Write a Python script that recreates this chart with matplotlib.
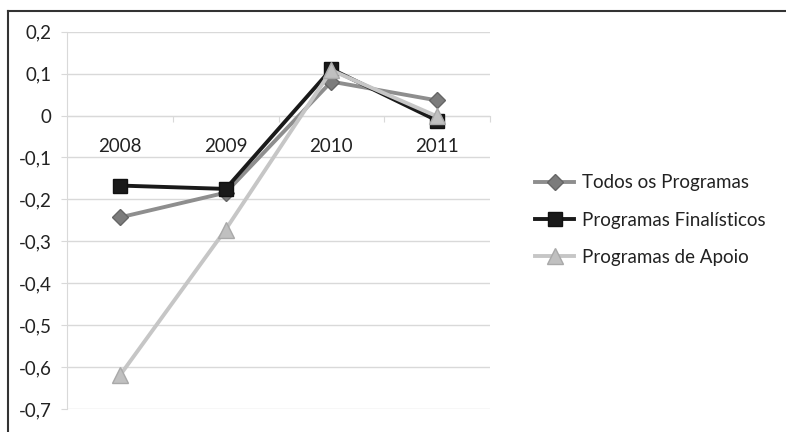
import matplotlib
matplotlib.use('Agg')
import matplotlib.pyplot as plt
from matplotlib.lines import Line2D

plt.rcParams['font.family'] = ['Lato', 'DejaVu Sans']

# Data
years = ['2008', '2009', '2010', '2011']
todos = [-0.243, -0.184, 0.081, 0.036]
finalisticos = [-0.167, -0.175, 0.111, -0.012]
apoio = [-0.620, -0.272, 0.108, -0.002]
y_ticks = [0.2, 0.1, 0.0, -0.1, -0.2, -0.3, -0.4, -0.5, -0.6, -0.7]
y_labels = ['0,2', '0,1', '0', '-0,1', '-0,2', '-0,3', '-0,4', '-0,5', '-0,6', '-0,7']

grid_col = '#d9d9d9'
text_col = '#222222'
fs = 13.5

fig = plt.figure(figsize=(7.86, 4.32), dpi=100)
ax = fig.add_axes([67 / 786, 1 - 409 / 432, 423 / 786, (409 - 31.7) / 432])

x = list(range(len(years)))
ax.plot(x, todos, color='#8e8e8e', lw=2.8, marker='D', ms=8,
        mfc='#7c7c7c', mec='#666666', mew=1, label='Todos os Programas', zorder=3)
ax.plot(x, finalisticos, color='#1a1a1a', lw=2.8, marker='s', ms=10.5,
        mfc='#1a1a1a', mec='#111111', label='Programas Finalísticos', zorder=4)
ax.plot(x, apoio, color='#c6c6c6', lw=2.8, marker='^', ms=11,
        mfc='#c0c0c0', mec='#a9a9a9', mew=1, label='Programas de Apoio', zorder=5)

ax.set_xlim(-0.5, len(years) - 0.5)
ax.set_ylim(-0.7, 0.2)

# horizontal gridlines
ax.set_yticks(y_ticks)
ax.set_yticklabels(y_labels)
ax.yaxis.grid(True, color=grid_col, lw=1)
ax.set_axisbelow(True)
ax.tick_params(axis='y', length=4.5, color=grid_col, pad=6.5,
               labelsize=fs, labelcolor=text_col)

# category axis crossing at zero
for s in ['top', 'right']:
    ax.spines[s].set_visible(False)
ax.spines['left'].set_color(grid_col)
ax.spines['bottom'].set_color(grid_col)
ax.spines['bottom'].set_position(('data', 0))
ax.set_xticks([i + 0.5 for i in x[:-1]] + [len(years) - 0.5])
ax.set_xticklabels([])
ax.tick_params(axis='x', length=4.5, color=grid_col, direction='out')
for i, yr in enumerate(years):
    ax.text(i, -0.0745, yr, ha='center', va='center', fontsize=fs, color=text_col)

fig.legend(loc='center left', bbox_to_anchor=(535 / 786, 1 - 220 / 432),
           frameon=False, fontsize=fs, labelcolor=text_col, borderpad=0,
           borderaxespad=0, handlelength=2.1, handletextpad=0.42, labelspacing=1.07)

# chart frame (top and left edges)
fig.add_artist(Line2D([8 / 786, 8 / 786], [0, 1 - 10.5 / 432], color='#333333',
                      lw=1.5, transform=fig.transFigure))
fig.add_artist(Line2D([8 / 786, 1], [1 - 10.5 / 432, 1 - 10.5 / 432], color='#333333',
                      lw=1.5, transform=fig.transFigure))

fig.savefig('out.png', dpi=100)
